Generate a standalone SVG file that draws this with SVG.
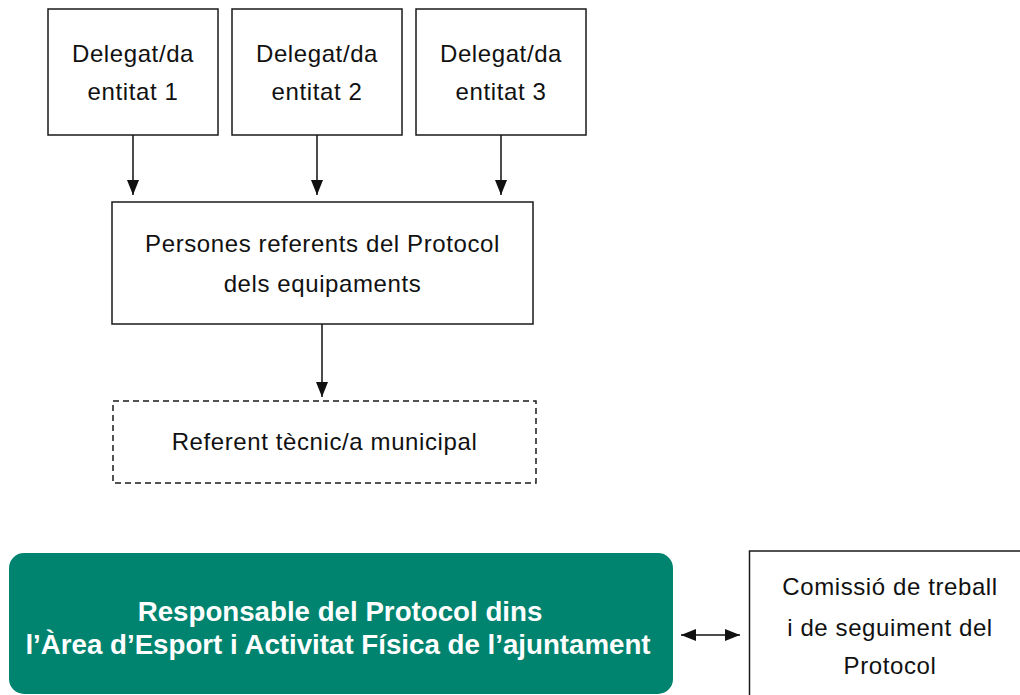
<svg xmlns="http://www.w3.org/2000/svg" width="1020" height="695" viewBox="0 0 1020 695">
  <defs>
    <marker id="arrow" markerUnits="userSpaceOnUse" markerWidth="16" markerHeight="13" refX="15" refY="6" orient="auto-start-reverse">
      <path d="M0,0 L15,6 L0,12 z" fill="#111"/>
    </marker>
  </defs>
  <style>
    .box { fill: #fff; stroke: #1a1a1a; stroke-width: 1.5; }
    .dash { fill: #fff; stroke: #1a1a1a; stroke-width: 1.5; stroke-dasharray: 6 4; }
    .txt { font-family: "Liberation Sans", Arial, sans-serif; font-size: 24px; letter-spacing: 0.6px; fill: #111; text-anchor: middle; }
    .wtxt { font-family: "Liberation Sans", Arial, sans-serif; font-size: 27.7px; font-weight: bold; fill: #fff; text-anchor: middle; }
    .conn { stroke: #111; stroke-width: 1.5; fill: none; marker-end: url(#arrow); }
  </style>
  <rect width="1020" height="695" fill="#fff"/>

  <g id="connectors">
    <line class="conn" x1="133" y1="135" x2="133" y2="195"/>
    <line class="conn" x1="317" y1="135" x2="317" y2="195"/>
    <line class="conn" x1="501" y1="135" x2="501" y2="195"/>
    <line class="conn" x1="322" y1="324" x2="322" y2="397"/>
    <line class="conn" x1="681" y1="635" x2="740" y2="635" style="marker-start: url(#arrow);"/>
  </g>

  <g id="delegat1">
    <rect class="box" x="48" y="9" width="170" height="126"/>
    <text class="txt" x="133" y="62">Delegat/da</text>
    <text class="txt" x="133" y="100">entitat 1</text>
  </g>
  <g id="delegat2">
    <rect class="box" x="232" y="9" width="170" height="126"/>
    <text class="txt" x="317" y="62">Delegat/da</text>
    <text class="txt" x="317" y="100">entitat 2</text>
  </g>
  <g id="delegat3">
    <rect class="box" x="416" y="9" width="170" height="126"/>
    <text class="txt" x="501" y="62">Delegat/da</text>
    <text class="txt" x="501" y="100">entitat 3</text>
  </g>

  <g id="persones">
    <rect class="box" x="112" y="202" width="421" height="122"/>
    <text class="txt" x="322.5" y="252">Persones referents del Protocol</text>
    <text class="txt" x="322.5" y="291.5">dels equipaments</text>
  </g>

  <g id="referent">
    <rect class="dash" x="113" y="401" width="423" height="82"/>
    <text class="txt" x="324.5" y="450">Referent tècnic/a municipal</text>
  </g>

  <g id="responsable">
    <rect x="9" y="553" width="664" height="141" rx="15" ry="15" fill="#00846F"/>
    <text class="wtxt" x="340" y="621">Responsable del Protocol dins</text>
    <text class="wtxt" x="338" y="654">l’Àrea d’Esport i Activitat Física de l’ajuntament</text>
  </g>

  <g id="comissio">
    <rect class="box" x="749.5" y="551" width="290" height="160"/>
    <text class="txt" x="890" y="594.5">Comissió de treball</text>
    <text class="txt" x="890" y="636">i de seguiment del</text>
    <text class="txt" x="890" y="674">Protocol</text>
  </g>
</svg>
